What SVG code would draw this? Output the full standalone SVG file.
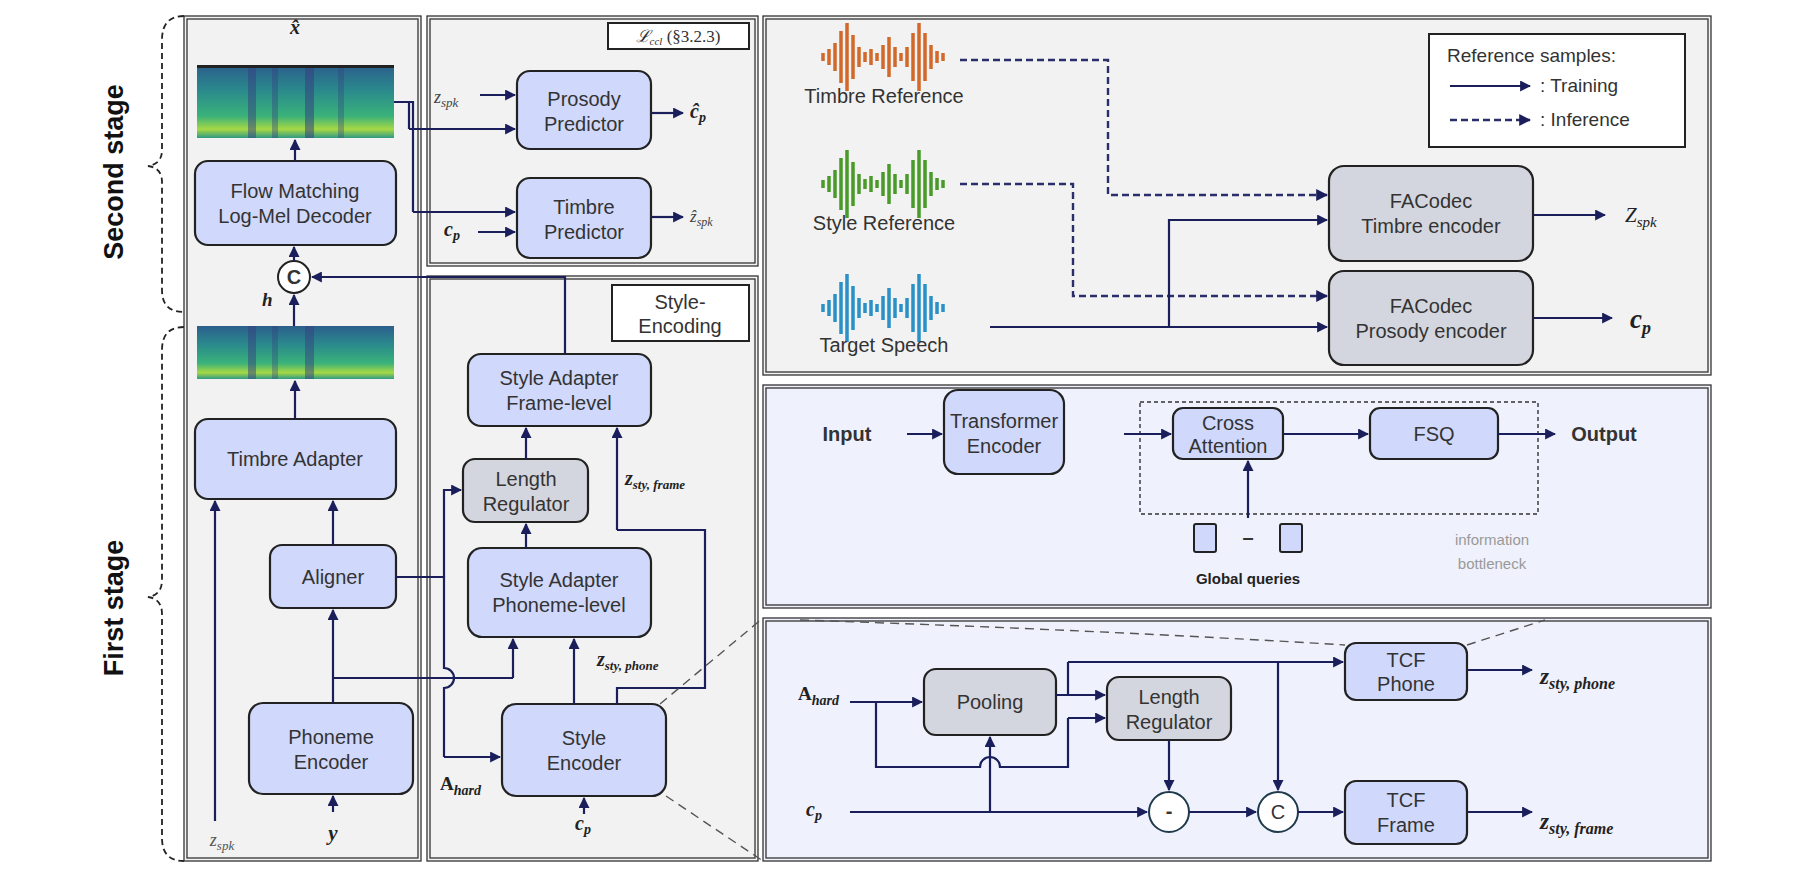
<svg xmlns="http://www.w3.org/2000/svg" width="1800" height="883" viewBox="0 0 1800 883">
<style>
.pan{fill:#f2f2f2;stroke:#333;stroke-width:1.3}
.panl{fill:#eff1fc;stroke:#333;stroke-width:1.3}
.in{fill:none;stroke:#333;stroke-width:1.3}
.box{fill:#d0d8fb;stroke:#222;stroke-width:2.2}
.gbox{fill:#d3d6de;stroke:#222;stroke-width:2.2}
.t{font-family:"Liberation Sans",Arial,sans-serif;font-size:20px;fill:#333;text-anchor:middle}
.m{font-family:"Liberation Serif","DejaVu Serif",serif;font-style:italic;font-weight:bold;fill:#222}
.ln{fill:none;stroke:#1a1f5c;stroke-width:2.2}
.ar{fill:none;stroke:#1a1f5c;stroke-width:2.2;marker-end:url(#a)}
.da{fill:none;stroke:#2a2f6c;stroke-width:2.4;stroke-dasharray:7,4;marker-end:url(#a)}
.zd{fill:none;stroke:#555;stroke-width:1.4;stroke-dasharray:9,6}
.brace{fill:none;stroke:#222;stroke-width:1.8;stroke-dasharray:6,4}
</style>
<defs>
<marker id="a" viewBox="0 0 10 10" refX="9" refY="5" markerWidth="5" markerHeight="5" orient="auto"><path d="M0,0L10,5L0,10z" fill="#1a1f5c"/></marker>
<linearGradient id="sg" x1="0" y1="0" x2="0" y2="1">
<stop offset="0" stop-color="#2c5e8c"/><stop offset="0.35" stop-color="#2a8a8c"/><stop offset="0.7" stop-color="#3ab27a"/><stop offset="0.88" stop-color="#a6d844"/><stop offset="1" stop-color="#2f9a84"/>
</linearGradient>
<path id="wave" d="M823,-4v8M829,-8v16M835,-14v28M841,-26v52M847,-34v68M853,-22v44M859,-10v20M865,-5v10M871,-8v16M877,-4v8M883,-12v24M889,-20v40M895,-10v20M901,-4v8M907,-10v20M913,-24v48M919,-34v68M925,-24v48M931,-12v24M937,-6v12M943,-4v8" stroke-width="3.5"/>
</defs>
<rect width="1800" height="883" fill="#fff"/>

<g id="stages">
<text transform="translate(123,172) rotate(-90)" style="font-family:'Liberation Sans',Arial,sans-serif;font-size:27px;font-weight:bold;text-anchor:middle;fill:#111">Second stage</text>
<text transform="translate(123,608) rotate(-90)" style="font-family:'Liberation Sans',Arial,sans-serif;font-size:27px;font-weight:bold;text-anchor:middle;fill:#111">First stage</text>
<path class="brace" d="M184,16 Q162,16 162,40 V150 Q162,164 148,166 Q162,168 162,182 V290 Q162,312 184,312"/>
<path class="brace" d="M184,327 Q162,327 162,350 V580 Q162,595 148,597 Q162,599 162,614 V838 Q162,861 184,861"/>
</g>

<g id="panels">
<rect class="pan" x="184" y="16" width="237" height="845"/><rect class="in" x="187" y="19" width="231" height="839"/>
<rect class="pan" x="427" y="16" width="331" height="250"/><rect class="in" x="430" y="19" width="325" height="244"/>
<rect class="pan" x="427" y="276" width="331" height="585"/><rect class="in" x="430" y="279" width="325" height="579"/>
<rect class="pan" x="763" y="16" width="948" height="359"/><rect class="in" x="766" y="19" width="942" height="353"/>
<rect class="panl" x="763" y="385" width="948" height="223"/><rect class="in" x="766" y="388" width="942" height="217"/>
<rect class="panl" x="763" y="618" width="948" height="243"/><rect class="in" x="766" y="621" width="942" height="237"/>
</g>

<g id="xhat"><text class="m" x="295" y="34" font-size="20" text-anchor="middle">x̂</text></g>
<g id="spec1">
<rect x="197" y="65" width="197" height="73" fill="url(#sg)"/>
<rect x="248" y="65" width="8" height="73" fill="#35407f" opacity="0.5"/><rect x="272" y="65" width="6" height="73" fill="#35407f" opacity="0.4"/><rect x="305" y="65" width="9" height="73" fill="#35407f" opacity="0.55"/><rect x="338" y="65" width="6" height="73" fill="#35407f" opacity="0.35"/>
<rect x="197" y="65" width="197" height="3" fill="#222"/>
</g>
<g id="flow"><rect class="box" x="195" y="161" width="201" height="84" rx="13"/><text class="t" x="295" y="198">Flow Matching</text><text class="t" x="295" y="223">Log-Mel Decoder</text></g>
<g id="concat1"><circle cx="294" cy="277" r="16" fill="#fff" stroke="#222" stroke-width="2"/><text class="t" x="294" y="284" font-weight="bold" font-size="18">C</text></g>
<g id="hlabel"><text class="m" x="262" y="306" font-size="19">h</text></g>
<g id="spec2">
<rect x="197" y="326" width="197" height="53" fill="url(#sg)"/>
<rect x="248" y="326" width="8" height="53" fill="#35407f" opacity="0.5"/><rect x="305" y="326" width="9" height="53" fill="#35407f" opacity="0.5"/><rect x="272" y="326" width="6" height="53" fill="#35407f" opacity="0.35"/>
</g>
<g id="timbreAdapter"><rect class="box" x="195" y="419" width="201" height="80" rx="13"/><text class="t" x="295" y="466">Timbre Adapter</text></g>
<g id="aligner"><rect class="box" x="270" y="545" width="126" height="63" rx="12"/><text class="t" x="333" y="584">Aligner</text></g>
<g id="phonemeEnc"><rect class="box" x="249" y="703" width="164" height="91" rx="14"/><text class="t" x="331" y="744">Phoneme</text><text class="t" x="331" y="769">Encoder</text></g>
<g id="inLeft">
<text class="m" x="222" y="846" font-size="18" text-anchor="middle" style="font-weight:normal;fill:#555">z<tspan font-size="13" dy="4">spk</tspan></text>
<text class="m" x="333" y="840" font-size="21" text-anchor="middle">y</text>
</g>

<g id="lccl"><rect x="608" y="23" width="141" height="26" fill="#fff" stroke="#222" stroke-width="2"/><text x="678" y="42" style="font-family:'Liberation Serif',serif;font-size:17px;text-anchor:middle;fill:#333"><tspan font-style="italic">ℒ</tspan><tspan font-style="italic" font-size="11" dy="3">ccl</tspan><tspan dy="-3"> (§3.2.3)</tspan></text></g>
<g id="prosodyPred"><rect class="box" x="517" y="71" width="134" height="78" rx="13"/><text class="t" x="584" y="106">Prosody</text><text class="t" x="584" y="131">Predictor</text></g>
<g id="timbrePred"><rect class="box" x="517" y="178" width="134" height="80" rx="13"/><text class="t" x="584" y="214">Timbre</text><text class="t" x="584" y="239">Predictor</text></g>
<g id="labelsB">
<text class="m" x="434" y="103" font-size="18" style="font-weight:normal;fill:#444">z<tspan font-size="13" dy="4">spk</tspan></text>
<text class="m" x="444" y="236" font-size="20">c<tspan font-size="14" dy="4">p</tspan></text>
<text class="m" x="690" y="118" font-size="20">ĉ<tspan font-size="14" dy="4">p</tspan></text>
<text class="m" x="690" y="222" font-size="17" style="font-weight:normal;fill:#444">ẑ<tspan font-size="12" dy="4">spk</tspan></text>
</g>

<g id="styleEncLabel"><rect x="612" y="285" width="137" height="56" fill="#fff" stroke="#222" stroke-width="2"/><text class="t" x="680" y="309" fill="#111">Style-</text><text class="t" x="680" y="333" fill="#111">Encoding</text></g>
<g id="saFrame"><rect class="box" x="468" y="354" width="183" height="72" rx="13"/><text class="t" x="559" y="385">Style Adapter</text><text class="t" x="559" y="410">Frame-level</text></g>
<g id="lenReg1"><rect class="gbox" x="463" y="459" width="125" height="63" rx="12"/><text class="t" x="526" y="486">Length</text><text class="t" x="526" y="511">Regulator</text></g>
<g id="saPhone"><rect class="box" x="468" y="548" width="183" height="89" rx="14"/><text class="t" x="559" y="587">Style Adapter</text><text class="t" x="559" y="612">Phoneme-level</text></g>
<g id="styleEnc"><rect class="box" x="502" y="704" width="164" height="92" rx="14"/><text class="t" x="584" y="745">Style</text><text class="t" x="584" y="770">Encoder</text></g>
<g id="labelsC">
<text class="m" x="440" y="790" font-size="19" style="font-style:normal">A<tspan font-style="italic" font-size="14" dy="5">hard</tspan></text>
<text class="m" x="575" y="830" font-size="20">c<tspan font-size="14" dy="4">p</tspan></text>
<text class="m" x="597" y="666" font-size="20">z<tspan font-size="13" dy="4">sty, phone</tspan></text>
<text class="m" x="625" y="485" font-size="20">z<tspan font-size="13" dy="4">sty, frame</tspan></text>
</g>

<g id="timbreRef"><use href="#wave" transform="translate(0,57)" stroke="#d2692a"/><text class="t" x="884" y="103" fill="#222">Timbre Reference</text></g>
<g id="styleRef"><use href="#wave" transform="translate(0,184)" stroke="#4a9a2a"/><text class="t" x="884" y="230" fill="#222">Style Reference</text></g>
<g id="targetSpeech"><use href="#wave" transform="translate(0,308)" stroke="#2a90c8"/><text class="t" x="884" y="352" fill="#222">Target Speech</text></g>
<g id="facTimbre"><rect class="gbox" x="1329" y="166" width="204" height="95" rx="15"/><text class="t" x="1431" y="208">FACodec</text><text class="t" x="1431" y="233">Timbre encoder</text></g>
<g id="facProsody"><rect class="gbox" x="1329" y="271" width="204" height="94" rx="15"/><text class="t" x="1431" y="313">FACodec</text><text class="t" x="1431" y="338">Prosody encoder</text></g>
<g id="outRT">
<text class="m" x="1625" y="222" font-size="21" style="font-weight:normal">Z<tspan font-size="15" dy="5">spk</tspan></text>
<text class="m" x="1630" y="328" font-size="27">c<tspan font-size="18" dy="6">p</tspan></text>
</g>
<g id="legend">
<rect x="1429" y="34" width="256" height="113" fill="#fff" stroke="#222" stroke-width="2"/>
<text class="t" x="1447" y="62" style="text-anchor:start;font-size:19px" fill="#111">Reference samples:</text>
<path class="ar" d="M1450,86H1530"/><text class="t" x="1540" y="92" style="text-anchor:start;font-size:19px" fill="#222">:  Training</text>
<path class="da" d="M1450,120H1530"/><text class="t" x="1540" y="126" style="text-anchor:start;font-size:19px" fill="#222">:  Inference</text>
</g>

<g id="inputLbl"><text class="t" x="847" y="441" font-weight="bold" fill="#222">Input</text></g>
<g id="transEnc"><rect class="box" x="944" y="390" width="120" height="84" rx="14"/><text class="t" x="1004" y="428">Transformer</text><text class="t" x="1004" y="453">Encoder</text></g>
<g id="bottleneck"><rect x="1140" y="402" width="398" height="112" fill="none" stroke="#333" stroke-width="1.4" stroke-dasharray="4,3"/>
<text class="t" x="1492" y="545" style="font-size:15px;fill:#999">information</text><text class="t" x="1492" y="569" style="font-size:15px;fill:#999">bottleneck</text></g>
<g id="crossAtt"><rect class="box" x="1173" y="408" width="110" height="51" rx="10"/><text class="t" x="1228" y="430">Cross</text><text class="t" x="1228" y="453">Attention</text></g>
<g id="fsq"><rect class="box" x="1370" y="408" width="128" height="51" rx="10"/><text class="t" x="1434" y="441">FSQ</text></g>
<g id="outputLbl"><text class="t" x="1604" y="441" font-weight="bold" fill="#222">Output</text></g>
<g id="globalQ">
<rect x="1194" y="524" width="22" height="28" rx="2" fill="#d0d8fb" stroke="#222" stroke-width="2"/>
<rect x="1280" y="524" width="22" height="28" rx="2" fill="#d0d8fb" stroke="#222" stroke-width="2"/>
<text class="t" x="1248" y="544" font-weight="bold">–</text>
<text class="t" x="1248" y="584" style="font-size:15px;font-weight:bold;fill:#222">Global queries</text>
</g>

<g id="labelsRB">
<text class="m" x="798" y="700" font-size="19" style="font-style:normal">A<tspan font-style="italic" font-size="14" dy="5">hard</tspan></text>
<text class="m" x="806" y="816" font-size="20">c<tspan font-size="14" dy="4">p</tspan></text>
<text class="m" x="1540" y="684" font-size="23">z<tspan font-size="16" dy="5">sty, phone</tspan></text>
<text class="m" x="1540" y="829" font-size="23">z<tspan font-size="16" dy="5">sty, frame</tspan></text>
</g>
<g id="pooling"><rect class="gbox" x="924" y="669" width="132" height="66" rx="12"/><text class="t" x="990" y="709">Pooling</text></g>
<g id="lenReg2"><rect class="gbox" x="1107" y="677" width="124" height="63" rx="12"/><text class="t" x="1169" y="704">Length</text><text class="t" x="1169" y="729">Regulator</text></g>
<g id="tcfPhone"><rect class="box" x="1345" y="643" width="122" height="57" rx="11"/><text class="t" x="1406" y="667">TCF</text><text class="t" x="1406" y="691">Phone</text></g>
<g id="tcfFrame"><rect class="box" x="1345" y="781" width="122" height="63" rx="11"/><text class="t" x="1406" y="807">TCF</text><text class="t" x="1406" y="832">Frame</text></g>
<g id="minus"><circle cx="1169" cy="812" r="20" fill="#fff" stroke="#1e3a4c" stroke-width="2"/><text class="t" x="1169" y="818" font-weight="bold">-</text></g>
<g id="concat2"><circle cx="1278" cy="812" r="20" fill="#fff" stroke="#1e3a4c" stroke-width="2"/><text class="t" x="1278" y="819" font-size="21">C</text></g>

<g id="connectors">
<path class="ar" d="M215,821V501"/>
<path class="ar" d="M333,812V796"/>
<path class="ar" d="M333,703V610"/>
<path class="ar" d="M333,545V501"/>
<path class="ar" d="M295,419V381"/>
<path class="ar" d="M294,326V295"/>
<path class="ar" d="M294,261V247"/>
<path class="ar" d="M295,161V140"/>
<path class="ln" d="M333,678H513"/><path class="ar" d="M513,678V639"/>
<path class="ln" d="M396,577H444V668 A10,10 0 0 1 444,688 V757"/>
<path class="ar" d="M444,757H500"/>
<path class="ar" d="M444,577V490H461"/>
<path class="ar" d="M574,704V639"/>
<path class="ar" d="M526,548V524"/>
<path class="ar" d="M526,459V428"/>
<path class="ln" d="M617,704V688H705V530H617"/><path class="ar" d="M617,530V428"/>
<path class="ar" d="M565,354V277H312"/>
<path class="ar" d="M584,814V798"/>
<path class="ln" d="M394,102H409V129"/><path class="ar" d="M409,129H515"/>
<path class="ln" d="M409,102H413V212"/><path class="ar" d="M413,212H515"/>
<path class="ar" d="M480,95H515"/>
<path class="ar" d="M478,232H515"/>
<path class="ar" d="M651,113H683"/>
<path class="ar" d="M651,217H683"/>
<path class="zd" d="M660,704L763,618"/>
<path class="zd" d="M666,796L763,861"/>
<path class="zd" d="M800,620Q1100,630 1345,645"/>
<path class="zd" d="M1467,645L1545,620"/>
<path class="da" d="M960,60H1108V195H1327"/>
<path class="da" d="M960,184H1073V296H1327"/>
<path class="ar" d="M990,327H1327"/>
<path class="ar" d="M1169,327V220H1327"/>
<path class="ar" d="M1533,215H1605"/>
<path class="ar" d="M1533,318H1612"/>
<path class="ar" d="M907,434H942"/>
<path class="ar" d="M1124,434H1171"/>
<path class="ar" d="M1283,434H1368"/>
<path class="ar" d="M1498,434H1555"/>
<path class="ar" d="M1248,518V461"/>
<path class="ar" d="M850,702H922"/>
<path class="ln" d="M876,702V767H980 A10,10 0 0 1 1000,767 H1068V718"/>
<path class="ar" d="M1068,718H1105"/>
<path class="ar" d="M1056,695H1105"/>
<path class="ln" d="M1068,695V662"/>
<path class="ar" d="M1068,662H1343"/>
<path class="ar" d="M1278,662V790"/>
<path class="ar" d="M850,812H1147"/>
<path class="ar" d="M990,812V737"/>
<path class="ar" d="M1169,740V790"/>
<path class="ar" d="M1189,812H1256"/>
<path class="ar" d="M1298,812H1343"/>
<path class="ar" d="M1467,670H1532"/>
<path class="ar" d="M1467,812H1532"/>
</g>
</svg>
